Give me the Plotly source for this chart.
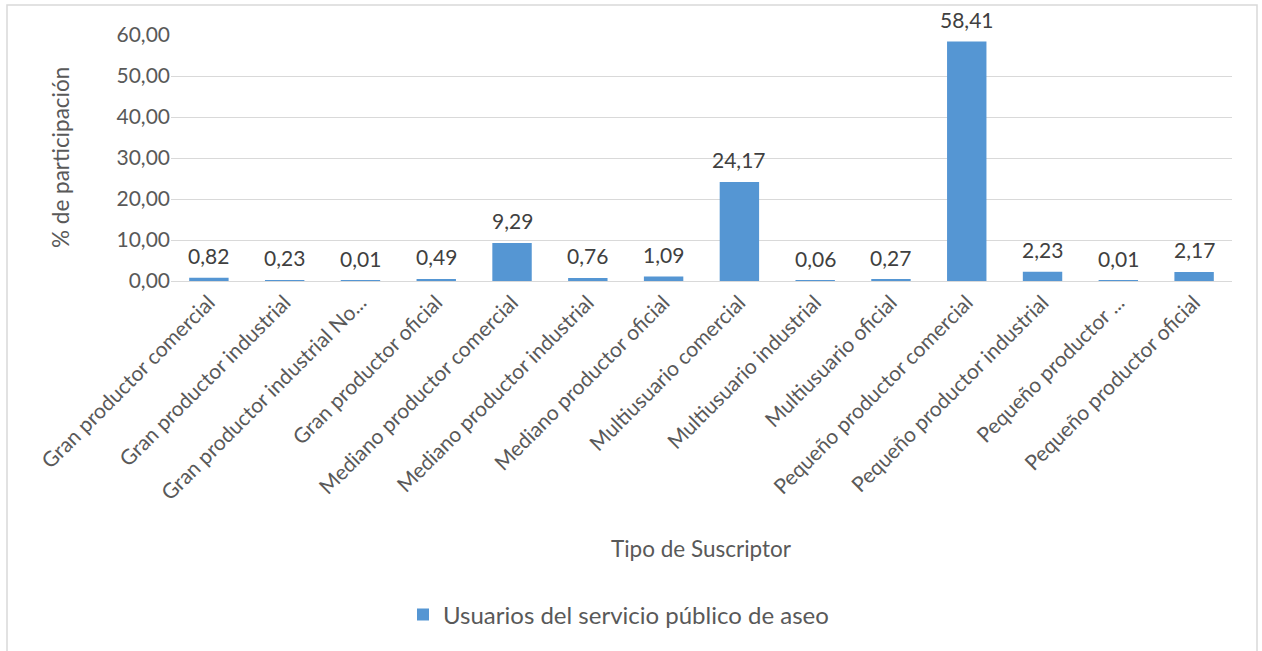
import plotly.graph_objects as go

categorias = [
    "Gran productor comercial",
    "Gran productor industrial",
    "Gran productor industrial No...",
    "Gran productor oficial",
    "Mediano productor comercial",
    "Mediano productor industrial",
    "Mediano productor oficial",
    "Multiusuario comercial",
    "Multiusuario industrial",
    "Multiusuario oficial",
    "Pequeño productor comercial",
    "Pequeño productor industrial",
    "Pequeño productor ...",
    "Pequeño productor oficial",
]
participacion = [0.82, 0.23, 0.01, 0.49, 9.29, 0.76, 1.09, 24.17, 0.06, 0.27, 58.41, 2.23, 0.01, 2.17]
y_ticks = [0, 10, 20, 30, 40, 50, 60]

W, H = 1262, 651
L, R, T, B = 171, 30, 35, 370
pw, ph = W - L - R, H - T - B


def px(x):
    return (x - L) / pw


def py(y):
    return (H - B - y) / ph


FONT = "Lato"
FS = 21

fig = go.Figure()
fig.add_trace(go.Bar(
    x=categorias,
    y=participacion,
    name="Usuarios del servicio público de aseo",
    marker=dict(color="#5596d3", line=dict(width=0)),
    cliponaxis=False,
))

# value labels above each bar, formatted with a decimal comma
value_labels = [
    dict(x=c, y=v, xref="x", yref="y",
         text=f"{v:.2f}".replace(".", ","),
         xanchor="center", yanchor="bottom", yshift=8,
         showarrow=False, font=dict(size=FS, color="#404040", family=FONT))
    for c, v in zip(categorias, participacion)
]

fig.update_layout(
    width=W, height=H,
    margin=dict(l=L, r=R, t=T, b=B),
    paper_bgcolor="white",
    plot_bgcolor="white",
    separators=",.",
    bargap=0.48,
    font=dict(family=FONT, color="#595959", size=FS),
    showlegend=True,
    legend=dict(
        orientation="h",
        x=px(403), xanchor="left",
        y=py(615), yanchor="middle",
        font=dict(size=24, color="#595959", family=FONT),
        itemwidth=30,
    ),
    xaxis=dict(
        tickangle=-45,
        tickfont=dict(size=FS, color="#595959"),
        showgrid=False,
        showline=True,
        linecolor="#d9d9d9",
        linewidth=1,
        ticks="",
    ),
    yaxis=dict(
        range=[0, 60],
        tickvals=y_ticks,
        tickformat=".2f",
        tickfont=dict(size=FS, color="#595959"),
        showgrid=True,
        gridcolor="#d9d9d9",
        gridwidth=1,
        zeroline=False,
        showline=False,
        ticks="",
        ticklen=0,
    ),
    annotations=value_labels + [
        dict(text="Tipo de Suscriptor", xref="paper", yref="paper",
             x=px(701), y=py(548), xanchor="center", yanchor="middle",
             showarrow=False, font=dict(size=22.5, color="#595959", family=FONT)),
        dict(text="% de participación", xref="paper", yref="paper",
             x=px(60), y=py(158), xanchor="center", yanchor="middle",
             textangle=-90, showarrow=False,
             font=dict(size=22.5, color="#595959", family=FONT)),
    ],
    shapes=[
        dict(type="rect", xref="paper", yref="paper",
             x0=px(7), x1=px(1257), y0=py(660), y1=py(5),
             line=dict(color="#d9d9d9", width=1.5), fillcolor="rgba(0,0,0,0)",
             layer="below"),
    ],
)

fig.write_html("out.html")
